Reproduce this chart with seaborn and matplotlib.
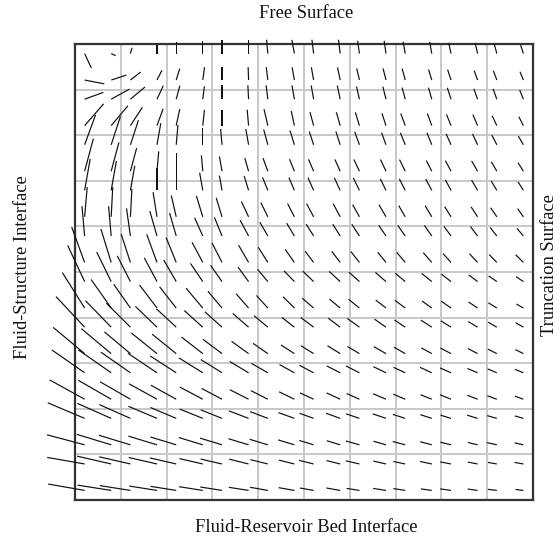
import numpy as np
import matplotlib
matplotlib.use("Agg")
import matplotlib.pyplot as plt
import seaborn as sns

# sample points (two per grid cell), left->right and top->bottom
x_nodes = [0.21, 0.79, 1.21, 1.79, 2.21, 2.79, 3.21, 3.79, 4.21, 4.79,
           5.21, 5.79, 6.21, 6.79, 7.21, 7.79, 8.21, 8.79, 9.21, 9.79]
y_nodes = [9.79, 9.21, 8.79, 8.21, 7.79, 7.21, 6.79, 6.21, 5.79, 5.21,
           4.79, 4.21, 3.79, 3.21, 2.79, 2.21, 1.79, 1.21, 0.79, 0.21]

# direction of each vector (degrees, counter-clockwise from +x)
angle_deg = [
    [295, 335, 75, 90, 90, 90, 90, 90, 95, 100, 97, 97, 98, 98, 100, 100, 102, 103, 105, 108],
    [349, 18, 38, 63, 73, 82, 90, 92, 97, 100, 100, 102, 103, 104, 105, 107, 108, 110, 110, 112],
    [20, 29, 40, 65, 75, 83, 90, 93, 97, 100, 100, 102, 103, 104, 105, 106, 108, 110, 110, 112],
    [49, 50, 57, 70, 78, 84, 90, 95, 103, 102, 105, 106, 107, 108, 110, 110, 112, 113, 115, 117],
    [70, 72, 72, 80, 85, 90, 95, 100, 105, 107, 108, 108, 110, 110, 112, 112, 114, 115, 117, 120],
    [75, 75, 75, 85, 90, 95, 100, 106, 110, 112, 113, 114, 115, 115, 116, 117, 118, 120, 120, 122],
    [80, 80, 80, 90, 90, 100, 100, 107, 112, 113, 114, 115, 116, 116, 117, 118, 118, 120, 121, 122],
    [85, 87, 87, 99, 103, 107, 107, 115, 116, 117, 118, 118, 119, 120, 120, 121, 122, 123, 124, 125],
    [95, 95, 98, 106, 106, 114, 112, 118, 120, 121, 122, 122, 123, 124, 125, 125, 126, 127, 128, 130],
    [110, 107, 108, 110, 112, 118, 117, 120, 122, 125, 127, 127, 128, 129, 130, 131, 132, 133, 134, 135],
    [115, 116, 117, 118, 120, 124, 125, 126, 130, 134, 136, 137, 138, 139, 140, 141, 142, 143, 145, 146],
    [122, 125, 125, 127, 128, 130, 130, 131, 132, 135, 139, 140, 141, 142, 143, 144, 145, 146, 148, 150],
    [133, 134, 135, 136, 137, 138, 138, 139, 140, 142, 143, 143, 144, 145, 146, 147, 148, 149, 150, 150],
    [140, 140, 140, 141, 141, 142, 143, 144, 145, 147, 148, 148, 149, 150, 150, 151, 152, 152, 153, 153],
    [145, 145, 145, 146, 147, 148, 148, 149, 150, 151, 152, 153, 153, 154, 155, 155, 156, 157, 157, 158],
    [151, 150, 150, 151, 151, 152, 152, 153, 153, 154, 155, 155, 156, 157, 157, 158, 158, 159, 160, 160],
    [157, 156, 156, 157, 157, 158, 158, 159, 159, 160, 160, 160, 161, 161, 162, 162, 163, 163, 164, 164],
    [165, 163, 163, 163, 163, 163, 163, 163, 163, 163, 163, 163, 164, 164, 165, 165, 166, 166, 167, 167],
    [170, 167, 167, 167, 167, 167, 167, 166, 166, 166, 166, 166, 167, 167, 168, 168, 169, 169, 170, 170],
    [170, 171, 171, 171, 171, 171, 171, 171, 170, 170, 170, 170, 171, 171, 171, 172, 172, 172, 173, 173],
]

# magnitude of each vector
magnitude = [
    [16, 5, 6, 9, 12, 13, 14, 14, 14, 14, 14, 14, 13, 13, 12, 12, 11, 11, 10, 9],
    [20, 16, 13, 11, 12, 13, 13, 13, 13, 13, 13, 13, 12, 12, 12, 11, 11, 10, 10, 9],
    [20, 21, 19, 15, 14, 13, 14, 14, 14, 14, 14, 14, 13, 13, 12, 12, 12, 11, 11, 10],
    [29, 26, 22, 18, 17, 16, 16, 16, 17, 15, 14, 14, 14, 13, 13, 13, 12, 12, 11, 10],
    [32, 30, 26, 22, 20, 17, 16, 16, 16, 15, 14, 14, 14, 13, 13, 13, 12, 12, 11, 10],
    [34, 30, 24, 20, 18, 16, 15, 14, 14, 13, 13, 13, 13, 13, 13, 12, 12, 12, 11, 10],
    [32, 30, 25, 22, 20, 18, 15, 15, 14, 14, 14, 14, 14, 13, 13, 13, 12, 12, 11, 10],
    [30, 30, 28, 25, 22, 22, 20, 17, 16, 15, 15, 15, 14, 14, 13, 13, 12, 12, 11, 10],
    [30, 30, 28, 26, 24, 20, 20, 18, 16, 15, 14, 14, 14, 13, 13, 13, 12, 12, 11, 10],
    [38, 35, 30, 30, 27, 23, 22, 20, 18, 16, 14, 14, 14, 13, 13, 13, 12, 12, 11, 11],
    [40, 33, 29, 27, 25, 22, 20, 18, 16, 15, 15, 15, 14, 14, 13, 13, 12, 11, 10, 9],
    [42, 35, 29, 29, 27, 26, 22, 19, 17, 16, 15, 14, 14, 13, 13, 12, 12, 11, 10, 8],
    [42, 37, 34, 30, 27, 25, 23, 21, 18, 16, 16, 15, 15, 14, 13, 13, 12, 11, 10, 9],
    [41, 39, 34, 33, 31, 27, 24, 21, 18, 16, 15, 15, 14, 14, 13, 12, 12, 11, 10, 9],
    [40, 40, 36, 35, 31, 28, 25, 22, 19, 17, 16, 15, 15, 14, 13, 13, 12, 11, 10, 9],
    [40, 38, 35, 32, 29, 26, 23, 21, 19, 17, 15, 15, 14, 14, 13, 12, 12, 11, 10, 9],
    [40, 37, 34, 31, 28, 25, 23, 21, 19, 17, 15, 15, 14, 14, 13, 12, 11, 11, 10, 9],
    [39, 36, 33, 30, 27, 25, 23, 21, 19, 17, 15, 14, 14, 13, 13, 12, 11, 10, 10, 9],
    [38, 35, 32, 29, 27, 24, 22, 20, 18, 16, 15, 14, 14, 13, 12, 12, 11, 10, 9, 9],
    [37, 34, 31, 28, 26, 24, 22, 20, 18, 16, 14, 14, 13, 13, 12, 11, 11, 10, 9, 8],
]

grid_ticks = [0, 1, 2, 3, 4, 5, 6, 7, 8, 9, 10]
top_label = "Free Surface"
bottom_label = "Fluid-Reservoir Bed Interface"
left_label = "Fluid-Structure Interface"
right_label = "Truncation Surface"

sns.set_theme(style="white")
plt.rcParams["font.family"] = ["Liberation Serif", "DejaVu Serif"]

W, H = 560, 540
fig = plt.figure(figsize=(W / 100, H / 100), dpi=100)
ax = fig.add_axes([75 / W, 40 / H, 458 / W, 456 / H])

X, Y = np.meshgrid(np.array(x_nodes), np.array(y_nodes))
A = np.deg2rad(np.array(angle_deg, dtype=float))
M = np.array(magnitude, dtype=float)
U = M * np.cos(A)
V = M * np.sin(A)

q = ax.quiver(X, Y, U, V, angles="xy", scale_units="xy", scale=45.8,
              pivot="tail", headwidth=0, headlength=0, headaxislength=0,
              width=0.0026, color="#111111", zorder=3)
q.set_clip_on(False)

ax.set_xlim(0, 10)
ax.set_ylim(0, 10)
ax.set_xticks(grid_ticks)
ax.set_yticks(grid_ticks)
ax.tick_params(length=0, labelbottom=False, labelleft=False)
ax.grid(True, color="#c8c8c8", linewidth=1.4)
ax.set_axisbelow(True)
for s in ax.spines.values():
    s.set_visible(True)
    s.set_color("#333333")
    s.set_linewidth(1.6)

fs = 13.3
fig.text(306 / W, 1 - 13 / H, top_label, ha="center", va="center", fontsize=fs, color="#111111")
fig.text(306 / W, 1 - 527 / H, bottom_label, ha="center", va="center", fontsize=fs, color="#111111")
fig.text(23 / W, 1 - 267 / H, left_label, ha="center", va="center", rotation=90, fontsize=fs, color="#111111")
fig.text(549 / W, 1 - 265 / H, right_label, ha="center", va="center", rotation=90, fontsize=fs, color="#111111")

fig.savefig("out.png", dpi=100)
